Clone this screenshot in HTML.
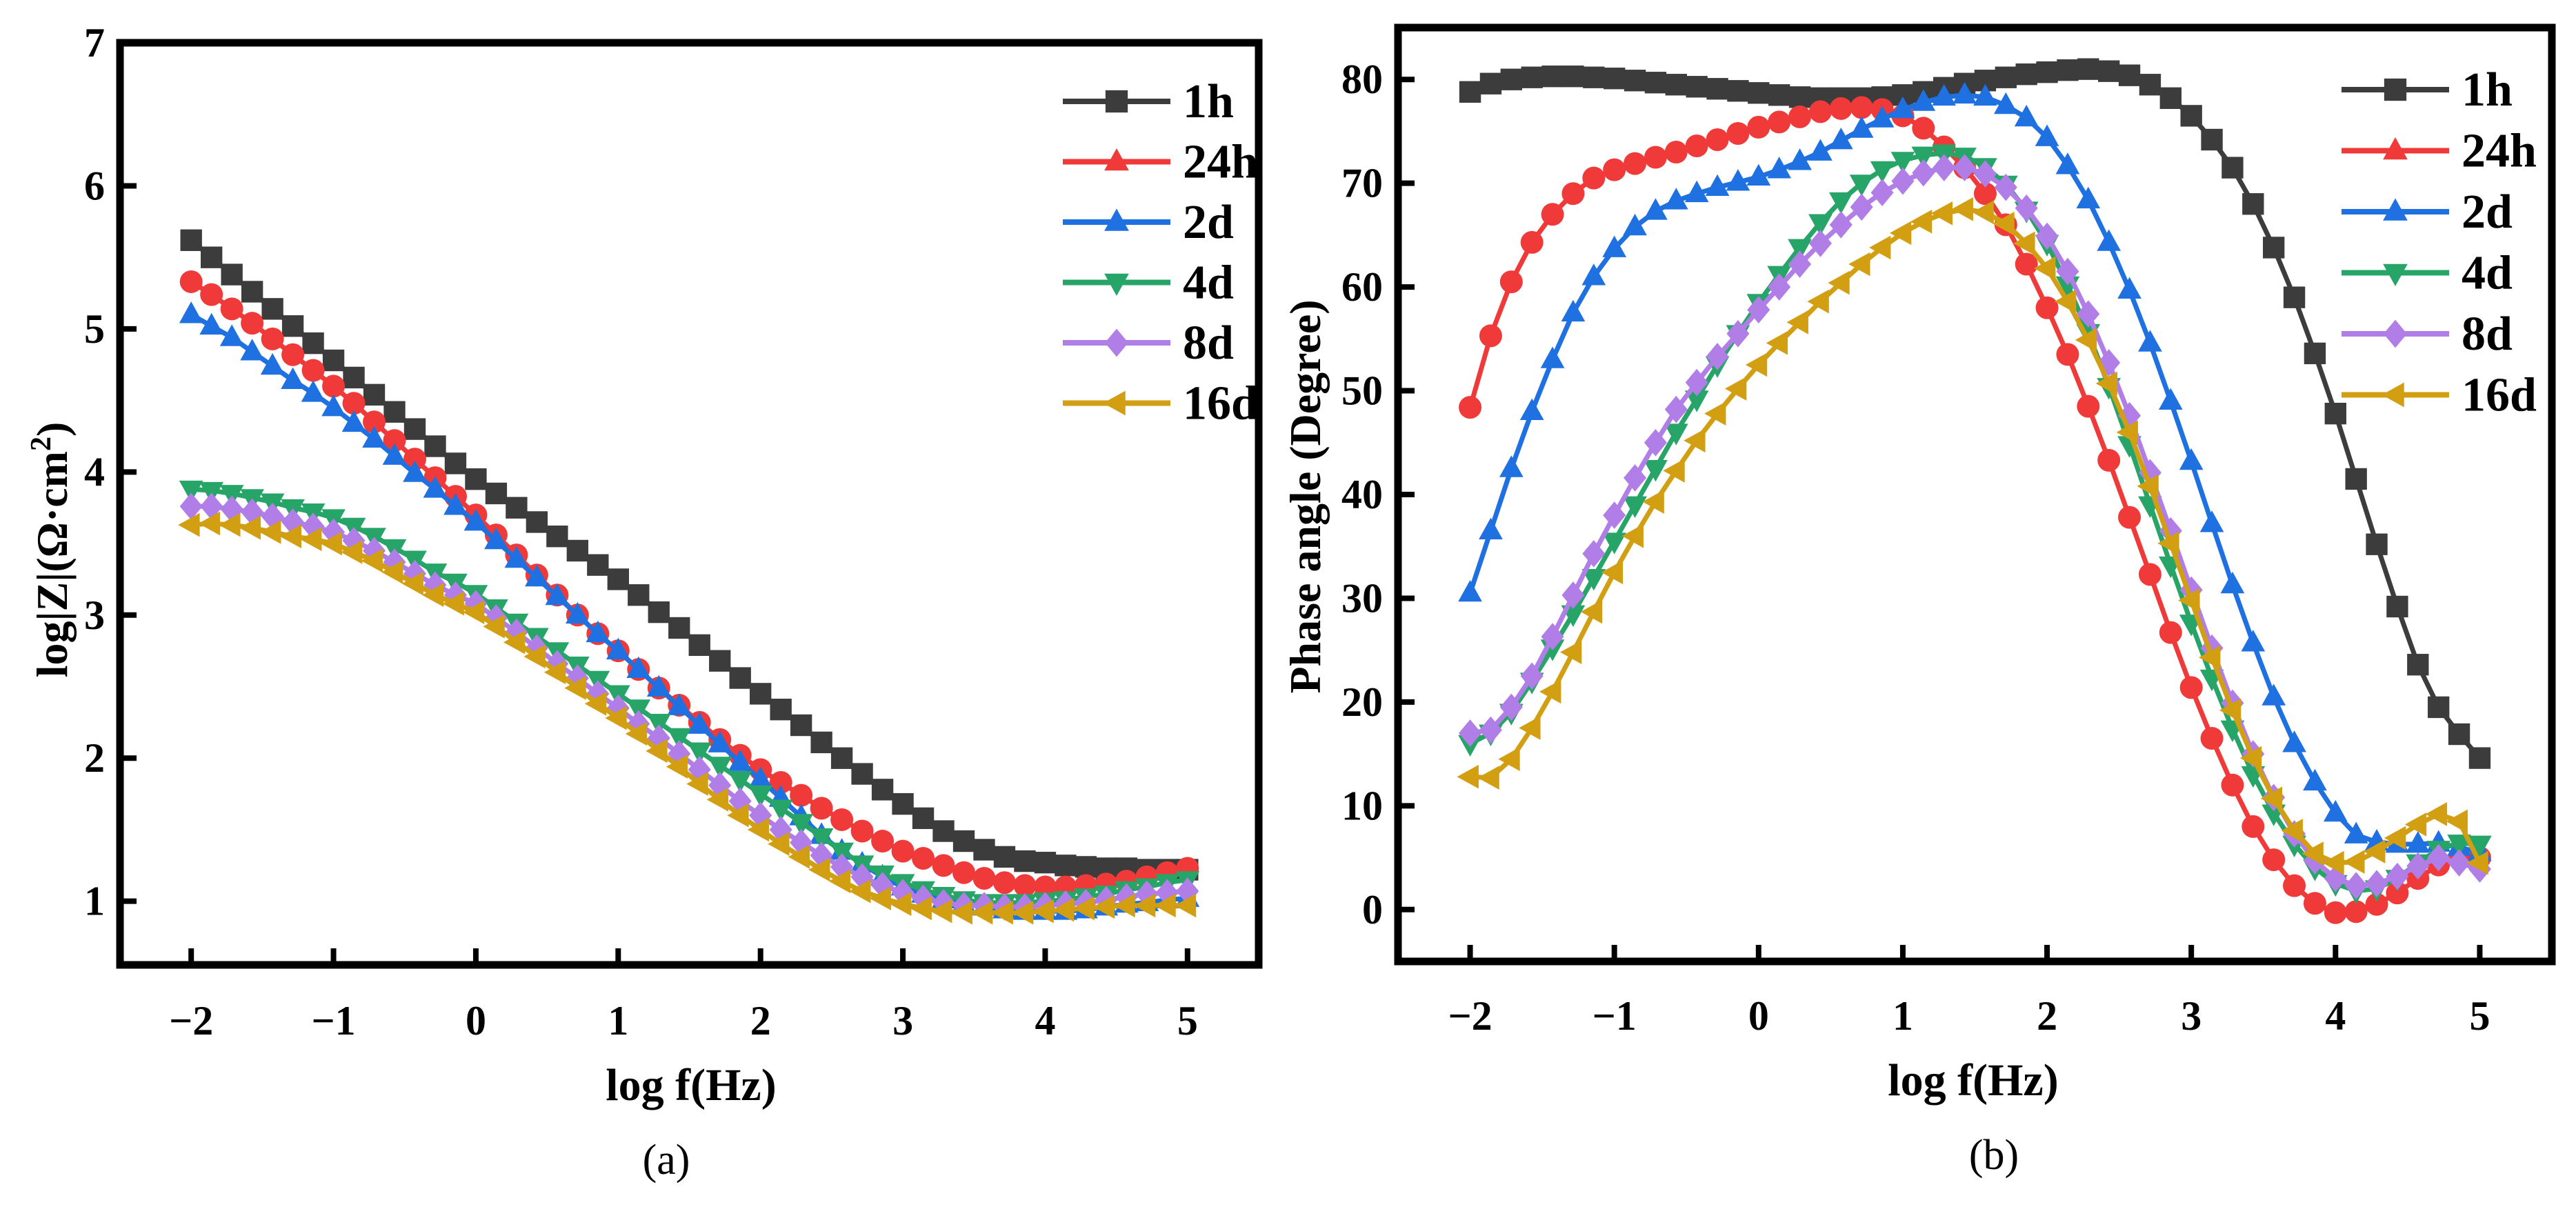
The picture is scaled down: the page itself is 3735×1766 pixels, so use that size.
<!DOCTYPE html>
<html><head><meta charset="utf-8"><style>
html,body{margin:0;padding:0;background:#fff;}
svg{display:block;}
text{font-family:"Liberation Serif",serif;}
</style></head><body>
<svg id="fig" width="3735" height="1766" viewBox="0 0 3735 1766" xmlns="http://www.w3.org/2000/svg"></svg>
<script>
// ---------- data ----------
const seriesNames = ["1h","24h","2d","4d","8d","16d"];
const seriesColors = ["#3c3c3c","#f03a3a","#1f70e0","#27a468","#b07ee6","#d29e12"];
const xTicks = [-2,-1,0,1,2,3,4,5];
const yTicksA = [1,2,3,4,5,6,7];
const yTicksB = [0,10,20,30,40,50,60,70,80];
const nPoints = 50; // measurement points, 7 per decade from 10^-2 to 10^5 Hz
const logFstart = -2, logFend = 5;

const modA_1h = [5.62,5.50,5.38,5.26,5.14,5.02,4.90, 4.78,4.66,4.54,4.42,4.30,4.18,4.06, 3.95,3.85,3.75,3.65,3.55,3.45,3.35, 3.25,3.14,3.02,2.91,2.79,2.68,2.56, 2.45,2.34,2.23,2.11,2.00,1.89,1.78, 1.68,1.58,1.49,1.42,1.36,1.31,1.28, 1.27,1.25,1.24,1.23,1.23,1.22,1.22, 1.22];
const modA_24h = [5.33,5.24,5.14,5.04,4.93,4.82,4.71, 4.60,4.48,4.35,4.22,4.09,3.96,3.83, 3.70,3.56,3.42,3.28,3.14,3.00,2.87, 2.75,2.62,2.49,2.37,2.25,2.13,2.02, 1.92,1.83,1.74,1.65,1.57,1.49,1.42, 1.35,1.30,1.25,1.20,1.16,1.13,1.11, 1.10,1.10,1.11,1.12,1.14,1.17,1.20, 1.23];
const modA_2d = [5.10,5.02,4.94,4.84,4.74,4.64,4.55, 4.45,4.34,4.23,4.11,3.99,3.88,3.76, 3.65,3.52,3.39,3.26,3.13,3.00,2.87, 2.75,2.62,2.49,2.36,2.23,2.10,1.97, 1.85,1.72,1.59,1.46,1.35,1.26,1.17, 1.10,1.05,1.01,0.98,0.96,0.94,0.93, 0.93,0.93,0.94,0.96,0.98,0.99,1.01, 1.02];
const modA_4d = [3.88,3.87,3.85,3.82,3.79,3.75,3.72, 3.68,3.62,3.55,3.47,3.39,3.30,3.23, 3.15,3.05,2.95,2.85,2.75,2.65,2.55, 2.45,2.35,2.25,2.15,2.05,1.95,1.85, 1.75,1.65,1.55,1.45,1.35,1.26,1.19, 1.13,1.08,1.04,1.01,0.99,0.99,0.99, 1.00,1.01,1.03,1.05,1.08,1.10,1.13, 1.15];
const modA_8d = [3.76,3.76,3.74,3.72,3.69,3.65,3.62, 3.58,3.52,3.45,3.37,3.29,3.21,3.14, 3.08,2.98,2.88,2.77,2.66,2.56,2.45, 2.35,2.24,2.14,2.03,1.92,1.81,1.70, 1.60,1.50,1.41,1.32,1.24,1.17,1.11, 1.06,1.02,0.99,0.97,0.97,0.96,0.96, 0.97,0.98,0.99,1.01,1.03,1.05,1.06, 1.07];
const modA_16d = [3.63,3.64,3.63,3.61,3.58,3.55,3.53, 3.50,3.44,3.38,3.30,3.22,3.14,3.08, 3.02,2.92,2.81,2.71,2.60,2.49,2.38, 2.28,2.17,2.05,1.94,1.82,1.71,1.60, 1.50,1.40,1.31,1.22,1.14,1.07,1.02, 0.98,0.95,0.93,0.92,0.92,0.92,0.92, 0.93,0.94,0.95,0.96,0.97,0.97,0.97, 0.97];

const phB_1h = [78.8,79.6,80.0,80.2,80.3,80.3,80.2, 80.1,79.9,79.7,79.5,79.3,79.1,78.9, 78.7,78.5,78.3,78.2,78.2,78.2,78.3, 78.5,78.8,79.2,79.6,79.9,80.2,80.5, 80.7,80.9,81.0,80.8,80.4,79.5,78.2, 76.5,74.2,71.5,68.0,63.8,59.0,53.6, 47.8,41.5,35.2,29.2,23.6,19.5,16.9, 14.6];
const phB_24h = [48.4,55.3,60.5,64.3,67.0,69.0,70.5, 71.3,71.9,72.5,73.0,73.6,74.2,74.8, 75.4,75.9,76.4,76.9,77.2,77.3,77.1, 76.5,75.3,73.5,71.5,69.0,66.0,62.2, 58.0,53.5,48.5,43.3,37.8,32.3,26.7, 21.4,16.5,12.0,8.0,4.8,2.3,0.6, -0.3,-0.2,0.5,1.6,3.0,4.3,5.0, 5.0];
const phB_2d = [30.5,36.5,42.5,48.0,53.0,57.5,61.0, 63.7,65.8,67.3,68.3,69.0,69.6,70.1, 70.6,71.3,72.1,73.0,74.1,75.2,76.2, 77.1,77.8,78.3,78.5,78.3,77.5,76.3, 74.4,71.7,68.4,64.3,59.7,54.6,49.0, 43.2,37.2,31.3,25.7,20.5,16.0,12.3, 9.3,7.2,6.5,6.3,6.3,6.4,6.0, 5.5];
const phB_4d = [16.0,17.0,19.0,22.0,25.2,28.5,32.0, 35.5,39.0,42.5,46.0,49.2,52.5,55.5, 58.5,61.2,63.8,66.2,68.3,70.0,71.3, 72.2,72.7,72.9,72.6,71.6,69.9,67.4, 64.2,60.2,55.6,50.4,44.8,39.0,33.2, 27.6,22.3,17.4,13.0,9.3,6.3,4.0, 2.5,1.8,2.0,3.0,4.5,5.8,6.4, 6.3];
const phB_8d = [17.0,17.3,19.5,22.5,26.3,30.3,34.3, 38.0,41.6,45.0,48.2,50.8,53.3,55.5, 57.8,60.0,62.2,64.2,66.0,67.7,69.1, 70.2,71.0,71.5,71.5,70.9,69.6,67.6, 64.9,61.5,57.4,52.7,47.6,42.1,36.5, 30.8,25.2,19.9,15.0,10.8,7.3,4.7, 3.0,2.3,2.5,3.2,4.2,5.0,4.5, 3.9];
const phB_16d = [12.8,12.7,14.5,17.5,21.0,24.8,28.7, 32.5,36.0,39.3,42.3,45.2,47.8,50.2, 52.5,54.6,56.6,58.6,60.4,62.2,63.8, 65.2,66.3,67.1,67.5,67.2,66.1,64.2, 61.8,58.6,54.9,50.7,46.0,40.8,35.3, 29.8,24.3,19.2,14.6,10.7,7.6,5.4, 4.5,4.6,5.6,6.9,8.2,9.2,8.5, 4.5];

const modA = [modA_1h,modA_24h,modA_2d,modA_4d,modA_8d,modA_16d];
const phB = [phB_1h,phB_24h,phB_2d,phB_4d,phB_8d,phB_16d];

// ---------- drawing ----------
const NS="http://www.w3.org/2000/svg";
const svg=document.getElementById('fig');
function el(tag,attrs,parent){const e=document.createElementNS(NS,tag);for(const k in attrs)e.setAttribute(k,attrs[k]);(parent||svg).appendChild(e);return e;}
function logF(i){return logFstart+(logFend-logFstart)*i/(nPoints-1);}

function marker(g,shape,cx,cy,r,color){
  let m;
  if(shape==='square'){m=el('rect',{x:cx-r*0.95,y:cy-r*0.95,width:r*1.9,height:r*1.9,fill:color},g);}
  else if(shape==='circle'){m=el('circle',{cx:cx,cy:cy,r:r,fill:color},g);}
  else {
    let pts;
    if(shape==='up')pts=[[0,-1.15],[1.05,0.75],[-1.05,0.75]];
    else if(shape==='down')pts=[[0,1.15],[1.05,-0.75],[-1.05,-0.75]];
    else if(shape==='diamond')pts=[[0,-1.2],[1.0,0],[0,1.2],[-1.0,0]];
    else pts=[[-1.15,0],[0.75,-1.05],[0.75,1.05]];
    m=el('polygon',{points:pts.map(p=>(cx+p[0]*r)+','+(cy+p[1]*r)).join(' '),fill:color},g);
  }
  return m;
}

function panel(cfg){
  const {id,left,top,right,bottom,xmin,xmax,ymin,ymax,yTicks,data,shapes,legendShapes,legX,legY,legStep,ylabel,ylabelX,ylabelY,xlabelX,xlabelY,cap,capX,capY} = cfg;
  const sx=v=>left+(v-xmin)/(xmax-xmin)*(right-left);
  const sy=v=>bottom-(v-ymin)/(ymax-ymin)*(bottom-top);
  const g=el('g',{});
  
  
  data.forEach((arr,si)=>{
    const sg=el('g',{},g);
    
    
    const d=arr.map((v,i)=>(i?'L':'M')+sx(logF(i)).toFixed(1)+','+sy(v).toFixed(1)).join(' ');
    el('path',{d:d,fill:'none',stroke:seriesColors[si],'stroke-width':7,'stroke-linejoin':'round'},sg);
    arr.forEach((v,i)=>{
      const m=marker(sg,shapes[si],sx(logF(i)),sy(v),16.5,seriesColors[si]);
      
      
    });
  });
  const fr=el('rect',{x:left,y:top,width:right-left,height:bottom-top,fill:'none',stroke:'#000','stroke-width':11},g);
  
  
  xTicks.forEach(t=>{
    const x=sx(t);
    el('line',{x1:x,y1:bottom,x2:x,y2:bottom-24,stroke:'#000','stroke-width':8},g);
    const tx=el('text',{x:x,y:xlabelY-95,'font-size':60,'font-weight':'bold','text-anchor':'middle'},g);
    tx.textContent=(t<0?'\u2212'+(-t):''+t);
    
    
  });
  yTicks.forEach(t=>{
    const y=sy(t);
    el('line',{x1:left,y1:y,x2:left+24,y2:y,stroke:'#000','stroke-width':8},g);
    const ty=el('text',{x:left-22,y:y+20,'font-size':60,'font-weight':'bold','text-anchor':'end'},g);
    ty.textContent=''+t;
    
    
  });
  const xl=el('text',{x:xlabelX,y:xlabelY,'font-size':66,'font-weight':'bold','text-anchor':'middle'},g);
  xl.textContent='log f(Hz)';
  
  
  const yl=el('text',{x:0,y:0,'font-size':64,'font-weight':'bold','text-anchor':'middle',transform:'translate('+ylabelX+','+ylabelY+') rotate(-90)'},g);
  yl.innerHTML=ylabel;
  
  
  const cp=el('text',{x:capX,y:capY,'font-size':62,'text-anchor':'middle'},g);
  cp.textContent=cap;
  
  
  seriesNames.forEach((n,si)=>{
    const y=legY+si*legStep;
    const lg=el('g',{},g);
    
    
    el('line',{x1:legX-78,y1:y,x2:legX+78,y2:y,stroke:seriesColors[si],'stroke-width':8},lg);
    marker(lg,legendShapes[si],legX,y,17,seriesColors[si]);
    const t=el('text',{x:legX+96,y:y+23,'font-size':70,'font-weight':'bold'},lg);
    t.textContent=n;
  });
}

panel({id:'panel-a',left:174,top:62,right:1825,bottom:1399,xmin:-2.5,xmax:5.5,ymin:0.555,ymax:7,yTicks:yTicksA,data:modA,
  shapes:['square','circle','up','down','diamond','left'],legendShapes:['square','up','up','down','diamond','left'],
  legX:1619,legY:147,legStep:87.5,ylabel:'log|Z|(\u03A9\u00B7cm<tspan dy="-24" font-size="42">2</tspan><tspan dy="24">)</tspan>',ylabelX:97,ylabelY:797,
  xlabelX:1002,xlabelY:1595,cap:'(a)',capX:966,capY:1702});
panel({id:'panel-b',left:2027,top:40,right:3700,bottom:1394,xmin:-2.5,xmax:5.5,ymin:-5.0,ymax:85.0,yTicks:yTicksB,data:phB,
  shapes:['square','circle','up','down','diamond','left'],legendShapes:['square','up','up','down','diamond','left'],
  legX:3473,legY:130,legStep:88.5,ylabel:'Phase angle (Degree)',ylabelX:1914,ylabelY:720,
  xlabelX:2861,xlabelY:1588,cap:'(b)',capX:2891,capY:1695});
</script>
</body></html>
